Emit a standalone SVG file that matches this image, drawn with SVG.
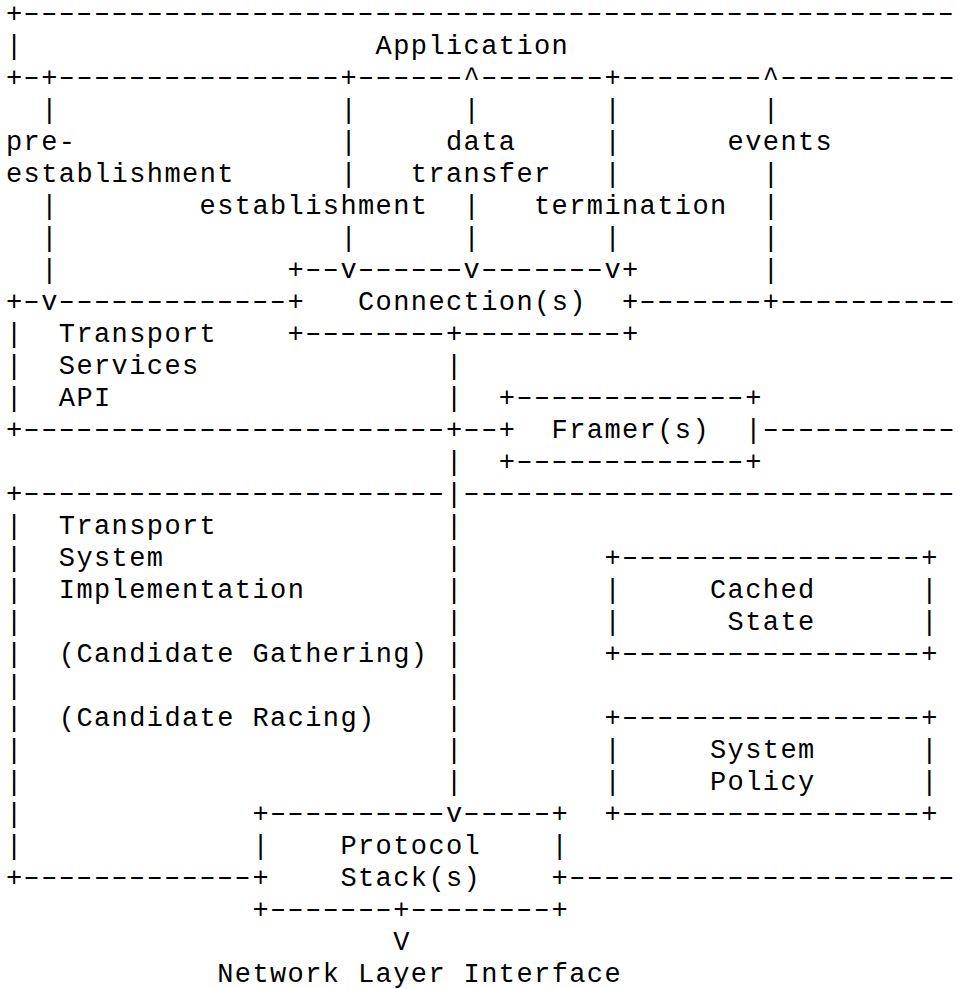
<svg xmlns="http://www.w3.org/2000/svg" width="964" height="989" viewBox="0 0 964 989">
<style>
text{font-family:"Liberation Mono","DejaVu Sans Mono",monospace;font-size:27px;letter-spacing:1.4px;fill:#000}
text.d{font-family:"Liberation Sans",Arial,sans-serif;font-size:24px;letter-spacing:0.8px}
</style>
<rect width="964" height="989" fill="#fff"/>
<g id="application">
<text x="6" y="21.5">+</text>
<text x="6" y="53.5">|</text>
<text x="375.6" y="53.5">Application</text>
<text x="6" y="85.5">+</text>
<text x="41.2" y="85.5">+</text>
<text x="340.4" y="85.5">+</text>
<text x="604.4" y="85.5">+</text>
<g transform="scale(2 1)">
<text class="d" x="11.8" y="19.6">-----------------------------------------------------</text>
<text class="d" x="11.8" y="83.6">-</text>
<text class="d" x="29.4" y="83.6">----------------</text>
<text class="d" x="179" y="83.6">------</text>
<text class="d" x="240.6" y="83.6">-------</text>
<text class="d" x="311" y="83.6">--------</text>
<text class="d" x="390.2" y="83.6">----------</text>
</g>
</g>
<g id="connection">
<text x="287.6" y="277.5">+</text>
<text x="622" y="277.5">+</text>
<text x="287.6" y="309.5">+</text>
<text x="358" y="309.5">Connection(s)</text>
<text x="622" y="309.5">+</text>
<text x="287.6" y="341.5">+</text>
<text x="446" y="341.5">+</text>
<text x="622" y="341.5">+</text>
<g transform="scale(2 1)">
<text class="d" x="152.6" y="275.6">--</text>
<text class="d" x="179" y="275.6">------</text>
<text class="d" x="240.6" y="275.6">-------</text>
<text class="d" x="152.6" y="339.6">--------</text>
<text class="d" x="231.8" y="339.6">---------</text>
</g>
</g>
<g id="transport-services-api">
<text x="6" y="309.5">+</text>
<text x="762.8" y="309.5">+</text>
<text x="6" y="341.5">|</text>
<text x="58.8" y="341.5">Transport</text>
<text x="6" y="373.5">|</text>
<text x="58.8" y="373.5">Services</text>
<text x="6" y="405.5">|</text>
<text x="58.8" y="405.5">API</text>
<text x="6" y="437.5">+</text>
<text x="446" y="437.5">+</text>
<g transform="scale(2 1)">
<text class="d" x="11.8" y="307.6">-</text>
<text class="d" x="29.4" y="307.6">-------------</text>
<text class="d" x="319.8" y="307.6">-------</text>
<text class="d" x="390.2" y="307.6">----------</text>
<text class="d" x="11.8" y="435.6">------------------------</text>
<text class="d" x="231.8" y="435.6">--</text>
<text class="d" x="381.4" y="435.6">-----------</text>
</g>
</g>
<g id="framer">
<text x="498.8" y="405.5">+</text>
<text x="745.2" y="405.5">+</text>
<text x="498.8" y="437.5">+</text>
<text x="551.6" y="437.5">Framer(s)</text>
<text x="745.2" y="437.5">|</text>
<text x="498.8" y="469.5">+</text>
<text x="745.2" y="469.5">+</text>
<g transform="scale(2 1)">
<text class="d" x="258.2" y="403.6">-------------</text>
<text class="d" x="258.2" y="467.6">-------------</text>
</g>
</g>
<g id="transport-system-implementation">
<text x="6" y="501.5">+</text>
<text x="6" y="533.5">|</text>
<text x="58.8" y="533.5">Transport</text>
<text x="6" y="565.5">|</text>
<text x="58.8" y="565.5">System</text>
<text x="6" y="597.5">|</text>
<text x="58.8" y="597.5">Implementation</text>
<text x="6" y="629.5">|</text>
<text x="6" y="661.5">|</text>
<text x="58.8" y="661.5">(Candidate Gathering)</text>
<text x="6" y="693.5">|</text>
<text x="6" y="725.5">|</text>
<text x="58.8" y="725.5">(Candidate Racing)</text>
<text x="6" y="757.5">|</text>
<text x="6" y="789.5">|</text>
<text x="6" y="821.5">|</text>
<text x="6" y="853.5">|</text>
<text x="6" y="885.5">+</text>
<g transform="scale(2 1)">
<text class="d" x="11.8" y="499.6">------------------------</text>
<text class="d" x="231.8" y="499.6">----------------------------</text>
<text class="d" x="11.8" y="883.6">-------------</text>
<text class="d" x="284.6" y="883.6">----------------------</text>
</g>
</g>
<g id="cached-state">
<text x="604.4" y="565.5">+</text>
<text x="921.2" y="565.5">+</text>
<text x="604.4" y="597.5">|</text>
<text x="710" y="597.5">Cached</text>
<text x="921.2" y="597.5">|</text>
<text x="604.4" y="629.5">|</text>
<text x="727.6" y="629.5">State</text>
<text x="921.2" y="629.5">|</text>
<text x="604.4" y="661.5">+</text>
<text x="921.2" y="661.5">+</text>
<g transform="scale(2 1)">
<text class="d" x="311" y="563.6">-----------------</text>
<text class="d" x="311" y="659.6">-----------------</text>
</g>
</g>
<g id="system-policy">
<text x="604.4" y="725.5">+</text>
<text x="921.2" y="725.5">+</text>
<text x="604.4" y="757.5">|</text>
<text x="710" y="757.5">System</text>
<text x="921.2" y="757.5">|</text>
<text x="604.4" y="789.5">|</text>
<text x="710" y="789.5">Policy</text>
<text x="921.2" y="789.5">|</text>
<text x="604.4" y="821.5">+</text>
<text x="921.2" y="821.5">+</text>
<g transform="scale(2 1)">
<text class="d" x="311" y="723.6">-----------------</text>
<text class="d" x="311" y="819.6">-----------------</text>
</g>
</g>
<g id="protocol-stack">
<text x="252.4" y="821.5">+</text>
<text x="551.6" y="821.5">+</text>
<text x="252.4" y="853.5">|</text>
<text x="340.4" y="853.5">Protocol</text>
<text x="551.6" y="853.5">|</text>
<text x="252.4" y="885.5">+</text>
<text x="340.4" y="885.5">Stack(s)</text>
<text x="551.6" y="885.5">+</text>
<text x="252.4" y="917.5">+</text>
<text x="393.2" y="917.5">+</text>
<text x="551.6" y="917.5">+</text>
<g transform="scale(2 1)">
<text class="d" x="135" y="819.6">----------</text>
<text class="d" x="231.8" y="819.6">-----</text>
<text class="d" x="135" y="915.6">-------</text>
<text class="d" x="205.4" y="915.6">--------</text>
</g>
</g>
<g id="network-layer-interface">
<text x="217.2" y="981.5">Network Layer Interface</text>
</g>
<g id="connectors">
<!-- pre-establishment -->
<text x="41.2" y="117.5">|</text>
<text x="6" y="149.5">pre-</text>
<text x="6" y="181.5">establishment</text>
<text x="41.2" y="213.5">|</text>
<text x="41.2" y="245.5">|</text>
<text x="41.2" y="277.5">|</text>
<text x="41.2" y="309.5">v</text>
<!-- establishment -->
<text x="340.4" y="117.5">|</text>
<text x="340.4" y="149.5">|</text>
<text x="340.4" y="181.5">|</text>
<text x="199.6" y="213.5">establishment</text>
<text x="340.4" y="245.5">|</text>
<text x="340.4" y="277.5">v</text>
<!-- data transfer -->
<text x="463.6" y="85.5">^</text>
<text x="463.6" y="117.5">|</text>
<text x="446" y="149.5">data</text>
<text x="410.8" y="181.5">transfer</text>
<text x="463.6" y="213.5">|</text>
<text x="463.6" y="245.5">|</text>
<text x="463.6" y="277.5">v</text>
<!-- termination -->
<text x="604.4" y="117.5">|</text>
<text x="604.4" y="149.5">|</text>
<text x="604.4" y="181.5">|</text>
<text x="534" y="213.5">termination</text>
<text x="604.4" y="245.5">|</text>
<text x="604.4" y="277.5">v</text>
<!-- events -->
<text x="762.8" y="85.5">^</text>
<text x="762.8" y="117.5">|</text>
<text x="727.6" y="149.5">events</text>
<text x="762.8" y="181.5">|</text>
<text x="762.8" y="213.5">|</text>
<text x="762.8" y="245.5">|</text>
<text x="762.8" y="277.5">|</text>
<!-- connection to protocol stack -->
<text x="446" y="373.5">|</text>
<text x="446" y="405.5">|</text>
<text x="446" y="469.5">|</text>
<text x="446" y="501.5">|</text>
<text x="446" y="533.5">|</text>
<text x="446" y="565.5">|</text>
<text x="446" y="597.5">|</text>
<text x="446" y="629.5">|</text>
<text x="446" y="661.5">|</text>
<text x="446" y="693.5">|</text>
<text x="446" y="725.5">|</text>
<text x="446" y="757.5">|</text>
<text x="446" y="789.5">|</text>
<text x="446" y="821.5">v</text>
<!-- protocol stack to network layer -->
<text x="393.2" y="949.5">V</text>
</g>
</svg>
